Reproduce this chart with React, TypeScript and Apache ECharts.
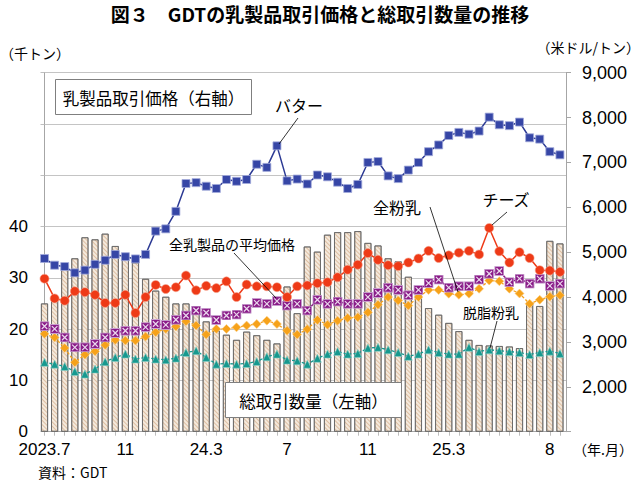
import React, { useEffect, useRef } from "react";
import * as echarts from "echarts";

// GDT auction events (2023.7 - 2025.8, twice a month)
const categories = [
  "2023-07-04", "2023-07-18", "2023-08-01", "2023-08-15", "2023-09-05", "2023-09-19",
  "2023-10-03", "2023-10-17", "2023-11-07", "2023-11-21", "2023-12-05", "2023-12-19",
  "2024-01-02", "2024-01-16", "2024-02-06", "2024-02-20", "2024-03-05", "2024-03-19",
  "2024-04-02", "2024-04-16", "2024-05-07", "2024-05-21", "2024-06-04", "2024-06-18",
  "2024-07-02", "2024-07-16", "2024-08-06", "2024-08-20", "2024-09-03", "2024-09-17",
  "2024-10-01", "2024-10-15", "2024-11-05", "2024-11-19", "2024-12-03", "2024-12-17",
  "2025-01-07", "2025-01-21", "2025-02-04", "2025-02-18", "2025-03-04", "2025-03-18",
  "2025-04-01", "2025-04-15", "2025-05-06", "2025-05-20", "2025-06-03", "2025-06-17",
  "2025-07-01", "2025-07-15", "2025-08-05", "2025-08-19",
];

// tick labels on the category axis
const tickIndex = [0, 8, 16, 24, 32, 40, 50];
const tickLabels = ["2023.7", "11", "24.3", "7", "11", "25.3", "8"];

// 総取引数量 (千トン, left axis)
const volume = [
  25.0, 26.0, 32.5, 33.8, 37.9, 37.5, 38.6, 36.2, 34.5, 33.0,
  29.8, 27.5, 26.3, 25.0, 25.0, 24.4, 21.5, 19.7, 18.9, 17.9,
  19.5, 18.8, 17.9, 17.2, 28.3, 23.1, 36.1, 35.1, 38.4, 38.9,
  38.9, 39.1, 36.8, 36.3, 33.8, 33.2, 30.2, 27.5, 24.1, 22.8,
  21.2, 19.6, 17.9, 16.9, 16.8, 16.7, 16.6, 16.3, 25.2, 24.5,
  37.2, 36.7,
];

// prices (USD/t, right axis)
const butter = [
  4860, 4710, 4680, 4540, 4600, 4730, 4820, 4950, 4900, 4850,
  4950, 5470, 5520, 5910, 6530, 6550, 6470, 6420, 6620, 6580,
  6620, 6960, 6890, 7370, 6590, 6630, 6520, 6720, 6680, 6560,
  6420, 6510, 7000, 7020, 6700, 6640, 6830, 7000, 7240, 7390,
  7600, 7670, 7630, 7700, 8010, 7840, 7820, 7900, 7550, 7520,
  7240, 7170,
];
const cheese = [
  4410, 3970, 3920, 4130, 4110, 4050, 3870, 3870, 4050, 3645,
  4000, 4270, 4180, 4220, 4480, 4150, 4250, 4200, 4350, 4000,
  4280, 4240, 4240, 4220, 4000, 4240, 4260, 4310, 4330, 4440,
  4610, 4720, 4980, 4830, 4710, 4690, 4770, 4860, 5030, 4870,
  4930, 4990, 5030, 4950, 5540, 5020, 4770, 5000, 4870, 4600,
  4590, 4560,
];
const average = [
  3350, 3290, 3100, 2880, 2880, 2955, 3100, 3200, 3250, 3250,
  3330, 3400, 3380, 3495, 3590, 3700, 3650, 3490, 3590, 3610,
  3740, 3870, 3850, 3910, 3810, 3850, 3700, 3940, 3850, 3900,
  3850, 3850, 4000, 4090, 4210, 4160, 4040, 4160, 4310, 4390,
  4210, 4240, 4240, 4390, 4520, 4580, 4330, 4410, 4300, 4410,
  4250, 4300,
];
const wmp = [
  3180, 3100, 2865, 2545, 2715, 2790, 2930, 3045, 3030, 3030,
  3120, 3215, 3290, 3345, 3460, 3365, 3165, 3290, 3290, 3325,
  3365, 3400, 3475, 3400, 3250, 3165, 3285, 3490, 3385, 3475,
  3535, 3550, 3660, 3830, 4000, 3925, 3810, 4000, 4160, 4160,
  4075, 4050, 4075, 4185, 4370, 4355, 4185, 4080, 3850, 3940,
  4010, 4040,
];
const smp = [
  2545, 2505, 2455, 2340, 2285, 2395, 2560, 2655, 2730, 2620,
  2655, 2620, 2605, 2640, 2765, 2805, 2655, 2505, 2520, 2505,
  2520, 2565, 2670, 2730, 2595, 2580, 2505, 2635, 2730, 2785,
  2730, 2745, 2865, 2880, 2825, 2765, 2680, 2730, 2825, 2765,
  2730, 2730, 2880, 2785, 2825, 2805, 2785, 2765, 2720, 2765,
  2795, 2745,
];

const NUM_FONT = "'Liberation Sans', Arial, sans-serif";
const JP_FONT = "'Noto Sans CJK JP', 'Noto Sans', sans-serif";

const purpleSvg =
  "<svg xmlns='http://www.w3.org/2000/svg' width='20' height='20' viewBox='0 0 20 20'>" +
  "<rect x='1' y='1' width='18' height='18' fill='#8A1C88' stroke='#C9A2D0' stroke-width='2'/>" +
  "<path d='M4.5 4.5L15.5 15.5M15.5 4.5L4.5 15.5' stroke='#EBD8EE' stroke-width='2.4'/>" +
  "</svg>";
const purpleSymbol = "image://data:image/svg+xml;charset=utf-8," + encodeURIComponent(purpleSvg);

const pairs = (arr: number[]) => arr.map((v, i) => [i, v]);

function txt(text: string, x: number, y: number, size: number, align = "center", font = JP_FONT, weight = "normal") {
  return {
    type: "text",
    x,
    y,
    z: 100,
    style: {
      text,
      font: `${weight} ${size}px ${font}`,
      fill: "#000",
      align,
      verticalAlign: "middle",
    },
  };
}
function leader(x1: number, y1: number, x2: number, y2: number) {
  return {
    type: "line",
    z: 100,
    shape: { x1, y1, x2, y2 },
    style: { stroke: "#000", lineWidth: 0.8 },
  };
}

export default function App() {
  const ref = useRef<HTMLDivElement>(null);
  useEffect(() => {
    document.body.style.margin = "0";
    const chart = echarts.init(ref.current!, null, { renderer: "svg" });
    const lineBase = {
      type: "line",
      xAxisIndex: 0,
      yAxisIndex: 1,
      symbolSize: 8,
      showSymbol: true,
      z: 5,
    };
    chart.setOption({
      animation: false,
      backgroundColor: "#fff",
      grid: { left: 44, right: 74, top: 72.7, bottom: 59.3, containLabel: false },
      xAxis: {
        type: "value",
        min: -0.05,
        max: 51.6,
        splitLine: { show: false },
        axisLine: { show: true, lineStyle: { color: "#a6a6a6", width: 1 } },
        axisTick: {
          show: true,
          customValues: categories.map((_, i) => i),
          length: 4,
          lineStyle: { color: "#bdbdbd" },
        },
        axisLabel: {
          customValues: tickIndex,
          formatter: (v: number) => {
            const k = tickIndex.indexOf(Math.round(v));
            return k >= 0 ? tickLabels[k] : "";
          },
          fontFamily: NUM_FONT,
          fontSize: 17,
          lineHeight: 13,
          color: "#000",
          margin: 11,
        },
      },
      yAxis: [
        {
          type: "value",
          min: 0,
          max: 70,
          interval: 10,
          axisLine: { show: true, lineStyle: { color: "#a6a6a6" } },
          axisTick: { show: true, length: 4, lineStyle: { color: "#bfbfbf" } },
          splitLine: { show: true, lineStyle: { color: "#c4c4c4", width: 1 } },
          axisLabel: {
            formatter: (v: number) => (v <= 40 ? String(v) : ""),
            fontFamily: NUM_FONT,
            fontSize: 17,
            lineHeight: 13,
            color: "#000",
            margin: 16,
          },
        },
        {
          type: "value",
          min: 1000,
          max: 9000,
          interval: 1000,
          position: "right",
          axisLine: { show: true, lineStyle: { color: "#a6a6a6" } },
          axisTick: { show: true, length: 5, lineStyle: { color: "#a6a6a6" } },
          splitLine: { show: false },
          axisLabel: {
            formatter: (v: number) => (v === 1000 ? "" : v.toLocaleString("en-US")),
            fontFamily: NUM_FONT,
            fontSize: 18,
            color: "#000",
            margin: 16,
          },
        },
      ],
      series: [
        {
          name: "総取引数量",
          type: "bar",
          xAxisIndex: 0,
          yAxisIndex: 0,
          barWidth: 7,
          clip: true,
          data: pairs(volume),
          itemStyle: {
            color: "#f4e9dc",
            borderColor: "#666666",
            borderWidth: 0.8,
            decal: {
              symbol: "rect",
              symbolSize: 1,
              dashArrayX: [[1, 0]],
              dashArrayY: [1, 1.6],
              rotation: Math.PI / 4,
              color: "rgba(200,150,105,0.5)",
            },
          },
          z: 1,
        },
        {
          ...lineBase,
          name: "脱脂粉乳",
          data: pairs(smp),
          symbol: "triangle",
          symbolSize: 8,
          lineStyle: { color: "#17998f", width: 1.3, type: [3, 2] },
          itemStyle: { color: "#17998f", borderColor: "#8fd0c9", borderWidth: 0.6 },
        },
        {
          ...lineBase,
          name: "全粉乳",
          data: pairs(wmp),
          symbol: "diamond",
          symbolSize: 9,
          lineStyle: { color: "#f5a11c", width: 1.3, type: [3, 2] },
          itemStyle: { color: "#f6a21a", borderColor: "#fbd08a", borderWidth: 0.6 },
        },
        {
          ...lineBase,
          name: "全乳製品の平均価格",
          data: pairs(average),
          symbol: purpleSymbol,
          symbolSize: 10,
          lineStyle: { color: "#8a1c88", width: 1.5 },
          itemStyle: { color: "#8a1c88" },
        },
        {
          ...lineBase,
          name: "チーズ",
          data: pairs(cheese),
          symbol: "circle",
          symbolSize: 9,
          lineStyle: { color: "#ee3a17", width: 1.5 },
          itemStyle: { color: "#ee3a17", borderColor: "#f7a48e", borderWidth: 0.6 },
        },
        {
          ...lineBase,
          name: "バター",
          data: pairs(butter),
          symbol: "rect",
          symbolSize: 8,
          lineStyle: { color: "#2c3a94", width: 1.5 },
          itemStyle: { color: "#3646a6", borderColor: "#a3abdb", borderWidth: 0.8 },
        },
      ],
      graphic: [
        txt("図３　GDTの乳製品取引価格と総取引数量の推移", 320, 13, 19, "center", JP_FONT, "bold"),
        txt("（千トン）", 0, 53, 14, "left"),
        txt("（米ドル/トン）", 640, 47, 14, "right"),
        txt("（年.月）", 633, 449, 14, "right"),
        txt("資料：GDT", 38, 472, 14, "left"),
        {
          type: "rect",
          z: 99,
          shape: { x: 55.5, y: 79.5, width: 196, height: 35 },
          style: { fill: "#fff", stroke: "#7f7f7f", lineWidth: 1 },
        },
        txt("乳製品取引価格（右軸）", 153.5, 97.5, 16.5),
        {
          type: "rect",
          z: 99,
          shape: { x: 225.5, y: 382.5, width: 176, height: 35 },
          style: { fill: "#fff", stroke: "#7f7f7f", lineWidth: 1 },
        },
        txt("総取引数量（左軸）", 313.5, 400.5, 16.5),
        txt("バター", 299, 105, 16),
        leader(298, 118, 279, 144),
        txt("チーズ", 506, 199, 16),
        leader(507, 212, 492, 225),
        txt("全粉乳", 397, 207, 16),
        leader(430, 207, 458, 292),
        txt("全乳製品の平均価格", 232, 244, 14),
        leader(234, 253, 276, 298),
        txt("脱脂粉乳", 491, 312, 14),
        leader(497, 321, 490, 348),
      ],
    });
    return () => chart.dispose();
  }, []);
  return <div ref={ref} style={{ width: 640, height: 491 }} />;
}
